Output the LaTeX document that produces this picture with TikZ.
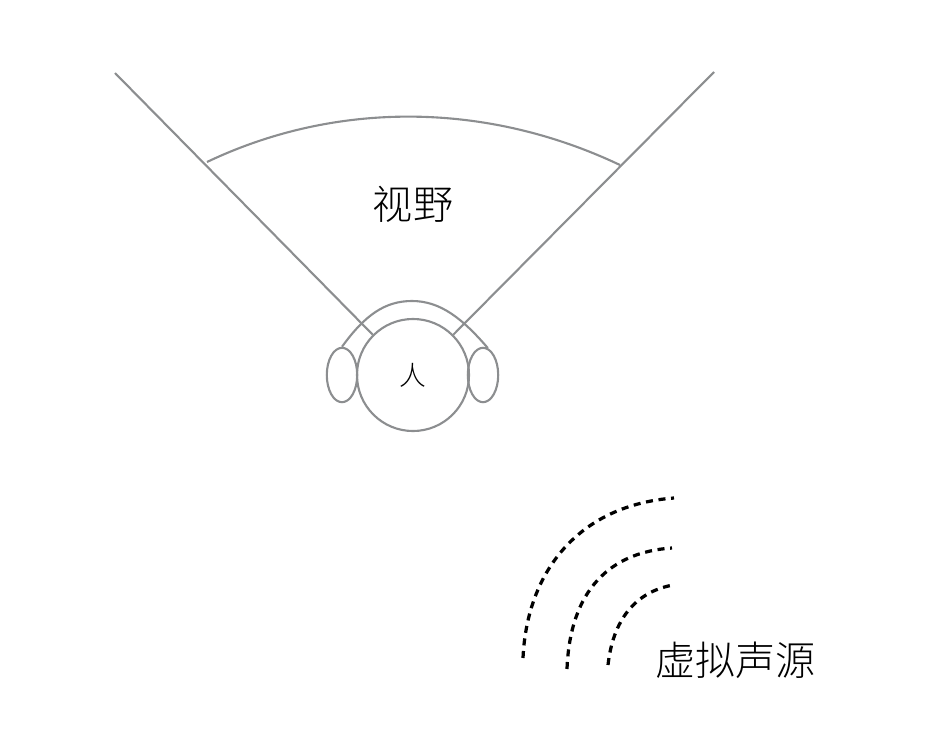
\documentclass[tikz,border=0pt]{standalone}
\usepackage{fontspec}
\usetikzlibrary{shapes.geometric}
\newfontfamily\cjk{Noto Sans CJK SC Light}
\definecolor{Outline}{HTML}{8C8E90}
\begin{document}
\begin{tikzpicture}[
  x=0.025cm,y=-0.025cm,
  outline/.style={draw=Outline,line width=1.5pt},
  ear/.style={ellipse,draw=Outline,line width=1.5pt,minimum width=0.76cm,minimum height=1.36cm,inner sep=0pt},
  wave/.style={draw=black,line width=2.3pt,dash pattern=on 5pt off 4pt},
  label/.style={inner sep=0pt,font=\cjk\fontsize{28.5}{29}\selectfont}
]
\useasboundingbox (0,0) rectangle (926,730);
\node[circle,outline,minimum size=2.8cm,inner sep=0pt,font=\cjk\fontsize{19}{19}\selectfont] (head) at (413,375) {人};
\node[ear] (earL) at (342,375) {};
\node[ear] (earR) at (483,375) {};
\coordinate (viewL) at (115,73); \coordinate (viewR) at (714,72);
\coordinate (arcL) at (207,162); \coordinate (arcR) at (620,165);
\coordinate (bandTop) at (412,301);
\draw[outline] (viewL)--(head.135);
\draw[outline] (viewR)--(head.45);
\draw[outline] (arcL) .. controls (335,101) and (485,101) .. (arcR);
\draw[outline] (earL.north) .. controls (365,315) and (385,301) .. (bandTop) .. controls (440,301) and (462,318) .. (earR.80);
\node[label] (view) at (413,204) {视野};
\node[label] (source) at (735.5,660) {虚拟声源};
\coordinate (w1a) at (523,658); \coordinate (w1b) at (674,498);
\coordinate (w2a) at (567,669); \coordinate (w2b) at (672,548);
\coordinate (w3a) at (608,665); \coordinate (w3b) at (673,585);
\draw[wave] (w1a) .. controls (527,570) and (580,505) .. (w1b);
\draw[wave] (w2a) .. controls (570,590) and (610,552) .. (w2b);
\draw[wave] (w3a) .. controls (613,620) and (635,592) .. (w3b);
\end{tikzpicture}
\end{document}
